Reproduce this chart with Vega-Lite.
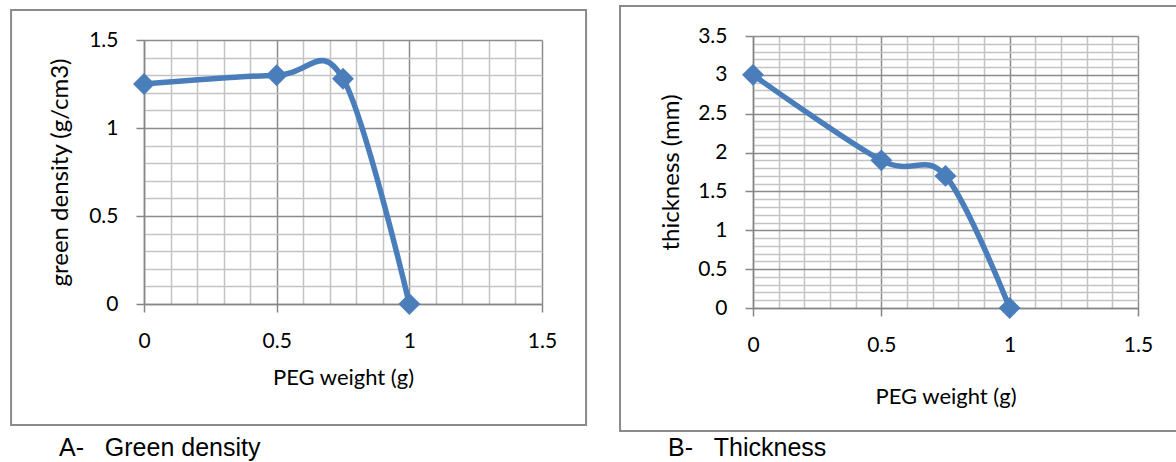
{
  "$schema": "https://vega.github.io/schema/vega-lite/v6.json",
  "padding": {"left": 10, "top": 5, "right": 0, "bottom": 0},
  "background": "white",
  "spacing": 211,
  "bounds": "flush",
  "center": true,
  "datasets": {
    "density": [
      {"peg": 0, "value": 1.25},
      {"peg": 0.5, "value": 1.30},
      {"peg": 0.75, "value": 1.28},
      {"peg": 1, "value": 0}
    ],
    "thickness": [
      {"peg": 0, "value": 3.0},
      {"peg": 0.5, "value": 1.9},
      {"peg": 0.75, "value": 1.7},
      {"peg": 1, "value": 0}
    ],
    "frame": [{"unit": "panel"}]
  },
  "config": {
    "view": {"stroke": null},
    "font": "Lato",
    "axis": {
      "labelFont": "Lato",
      "labelFontSize": 21,
      "labelColor": "#000000",
      "titleFont": "Lato",
      "titleFontSize": 22,
      "titleFontWeight": "normal",
      "titleColor": "#000000",
      "domainColor": "#868686",
      "domainWidth": 1.5,
      "tickSize": 8,
      "tickWidth": 1.5,
      "gridWidth": 1.5,
      "labelPadding": 18,
      "labelOverlap": false,
      "labelFlush": false,
      "format": ".1~f"
    },
    "axisY": {"titleFontSize": 24},
    "title": {"font": "Liberation Sans", "fontSize": 25, "fontWeight": "normal", "color": "#000000", "orient": "bottom", "anchor": "start", "frame": "group"}
  },
  "hconcat": [
    {
      "width": 398,
      "height": 264,
      "title": {"text": "A-\u00a0\u00a0\u00a0Green density", "dx": -85, "offset": 10},
      "layer": [
        {
          "data": {"name": "density"},
          "mark": {"type": "line", "interpolate": "cardinal", "color": "#4a7ebb", "strokeWidth": 5.5},
          "encoding": {
            "x": {
              "field": "peg", "type": "quantitative",
              "scale": {"domain": [0, 1.5], "nice": false, "zero": false},
              "axis": {
                "grid": true, "title": "PEG weight (g)", "titlePadding": 16,
                "values": [0, 0.1, 0.2, 0.3, 0.4, 0.5, 0.6, 0.7, 0.8, 0.9, 1, 1.1, 1.2, 1.3, 1.4, 1.5],
                "labelExpr": "indexof([0, 0.5, 1, 1.5], datum.value) >= 0 ? datum.label : ''",
                "gridColor": {"condition": {"test": "indexof([0, 0.5, 1, 1.5], datum.value) >= 0", "value": "#8c8c8c"}, "value": "#c4c4c4"},
                "tickColor": {"condition": {"test": "indexof([0, 0.5, 1, 1.5], datum.value) >= 0", "value": "#868686"}, "value": "transparent"}
              }
            },
            "y": {
              "field": "value", "type": "quantitative",
              "scale": {"domain": [0, 1.5], "nice": false, "zero": false},
              "axis": {
                "grid": true, "title": "green density (g/cm3)", "titlePadding": 16,
                "values": [0, 0.1, 0.2, 0.3, 0.4, 0.5, 0.6, 0.7, 0.8, 0.9, 1, 1.1, 1.2, 1.3, 1.4, 1.5],
                "labelExpr": "indexof([0, 0.5, 1, 1.5], datum.value) >= 0 ? datum.label : ''",
                "gridColor": {"condition": {"test": "indexof([0, 0.5, 1, 1.5], datum.value) >= 0", "value": "#8c8c8c"}, "value": "#c4c4c4"},
                "tickColor": {"condition": {"test": "indexof([0, 0.5, 1, 1.5], datum.value) >= 0", "value": "#868686"}, "value": "transparent"}
              }
            }
          }
        },
        {
          "data": {"name": "density"},
          "mark": {"type": "point", "shape": "diamond", "filled": true, "color": "#4a7ebb", "size": 480, "opacity": 1},
          "encoding": {
            "x": {
              "field": "peg", "type": "quantitative",
              "scale": {"domain": [0, 1.5], "nice": false, "zero": false},
              "axis": {
                "grid": true, "title": "PEG weight (g)", "titlePadding": 16,
                "values": [0, 0.1, 0.2, 0.3, 0.4, 0.5, 0.6, 0.7, 0.8, 0.9, 1, 1.1, 1.2, 1.3, 1.4, 1.5],
                "labelExpr": "indexof([0, 0.5, 1, 1.5], datum.value) >= 0 ? datum.label : ''",
                "gridColor": {"condition": {"test": "indexof([0, 0.5, 1, 1.5], datum.value) >= 0", "value": "#8c8c8c"}, "value": "#c4c4c4"},
                "tickColor": {"condition": {"test": "indexof([0, 0.5, 1, 1.5], datum.value) >= 0", "value": "#868686"}, "value": "transparent"}
              }
            },
            "y": {
              "field": "value", "type": "quantitative",
              "scale": {"domain": [0, 1.5], "nice": false, "zero": false},
              "axis": {
                "grid": true, "title": "green density (g/cm3)", "titlePadding": 16,
                "values": [0, 0.1, 0.2, 0.3, 0.4, 0.5, 0.6, 0.7, 0.8, 0.9, 1, 1.1, 1.2, 1.3, 1.4, 1.5],
                "labelExpr": "indexof([0, 0.5, 1, 1.5], datum.value) >= 0 ? datum.label : ''",
                "gridColor": {"condition": {"test": "indexof([0, 0.5, 1, 1.5], datum.value) >= 0", "value": "#8c8c8c"}, "value": "#c4c4c4"},
                "tickColor": {"condition": {"test": "indexof([0, 0.5, 1, 1.5], datum.value) >= 0", "value": "#868686"}, "value": "transparent"}
              }
            }
          }
        },
        {
          "data": {"name": "frame"},
          "mark": {"type": "rect", "fill": null, "stroke": "#8a8a8a", "strokeWidth": 2, "clip": false},
          "encoding": {
            "x": {
              "datum": -0.501, "type": "quantitative",
              "scale": {"domain": [0, 1.5], "nice": false, "zero": false},
              "axis": {
                "grid": true, "title": "PEG weight (g)", "titlePadding": 16,
                "values": [0, 0.1, 0.2, 0.3, 0.4, 0.5, 0.6, 0.7, 0.8, 0.9, 1, 1.1, 1.2, 1.3, 1.4, 1.5],
                "labelExpr": "indexof([0, 0.5, 1, 1.5], datum.value) >= 0 ? datum.label : ''",
                "gridColor": {"condition": {"test": "indexof([0, 0.5, 1, 1.5], datum.value) >= 0", "value": "#8c8c8c"}, "value": "#c4c4c4"},
                "tickColor": {"condition": {"test": "indexof([0, 0.5, 1, 1.5], datum.value) >= 0", "value": "#868686"}, "value": "transparent"}
              }
            },
            "x2": {"datum": 1.666},
            "y": {
              "datum": 1.67, "type": "quantitative",
              "scale": {"domain": [0, 1.5], "nice": false, "zero": false},
              "axis": {
                "grid": true, "title": "green density (g/cm3)", "titlePadding": 16,
                "values": [0, 0.1, 0.2, 0.3, 0.4, 0.5, 0.6, 0.7, 0.8, 0.9, 1, 1.1, 1.2, 1.3, 1.4, 1.5],
                "labelExpr": "indexof([0, 0.5, 1, 1.5], datum.value) >= 0 ? datum.label : ''",
                "gridColor": {"condition": {"test": "indexof([0, 0.5, 1, 1.5], datum.value) >= 0", "value": "#8c8c8c"}, "value": "#c4c4c4"},
                "tickColor": {"condition": {"test": "indexof([0, 0.5, 1, 1.5], datum.value) >= 0", "value": "#868686"}, "value": "transparent"}
              }
            },
            "y2": {"datum": -0.6875}
          }
        }
      ]
    },
    {
      "width": 385,
      "height": 272,
      "title": {"text": "B-\u00a0\u00a0\u00a0Thickness", "dx": -85, "offset": 4},
      "layer": [
        {
          "data": {"name": "thickness"},
          "mark": {"type": "line", "interpolate": "cardinal", "color": "#4a7ebb", "strokeWidth": 5.5},
          "encoding": {
            "x": {
              "field": "peg", "type": "quantitative",
              "scale": {"domain": [0, 1.5], "nice": false, "zero": false},
              "axis": {
                "grid": true, "title": "PEG weight (g)", "titlePadding": 31,
                "values": [0, 0.1, 0.2, 0.3, 0.4, 0.5, 0.6, 0.7, 0.8, 0.9, 1, 1.1, 1.2, 1.3, 1.4, 1.5],
                "labelExpr": "indexof([0, 0.5, 1, 1.5], datum.value) >= 0 ? datum.label : ''",
                "gridColor": {"condition": {"test": "indexof([0, 0.5, 1, 1.5], datum.value) >= 0", "value": "#8c8c8c"}, "value": "#c4c4c4"},
                "tickColor": {"condition": {"test": "indexof([0, 0.5, 1, 1.5], datum.value) >= 0", "value": "#868686"}, "value": "transparent"}
              }
            },
            "y": {
              "field": "value", "type": "quantitative",
              "scale": {"domain": [0, 3.5], "nice": false, "zero": false},
              "axis": {
                "grid": true, "title": "thickness (mm)", "titlePadding": 14,
                "values": [0, 0.1, 0.2, 0.3, 0.4, 0.5, 0.6, 0.7, 0.8, 0.9, 1, 1.1, 1.2, 1.3, 1.4, 1.5, 1.6, 1.7, 1.8, 1.9, 2, 2.1, 2.2, 2.3, 2.4, 2.5, 2.6, 2.7, 2.8, 2.9, 3, 3.1, 3.2, 3.3, 3.4, 3.5],
                "labelExpr": "indexof([0, 0.5, 1, 1.5, 2, 2.5, 3, 3.5], datum.value) >= 0 ? datum.label : ''",
                "gridColor": {"condition": {"test": "indexof([0, 0.5, 1, 1.5, 2, 2.5, 3, 3.5], datum.value) >= 0", "value": "#8c8c8c"}, "value": "#c4c4c4"},
                "tickColor": {"condition": {"test": "indexof([0, 0.5, 1, 1.5, 2, 2.5, 3, 3.5], datum.value) >= 0", "value": "#868686"}, "value": "transparent"}
              }
            }
          }
        },
        {
          "data": {"name": "thickness"},
          "mark": {"type": "point", "shape": "diamond", "filled": true, "color": "#4a7ebb", "size": 480, "opacity": 1},
          "encoding": {
            "x": {
              "field": "peg", "type": "quantitative",
              "scale": {"domain": [0, 1.5], "nice": false, "zero": false},
              "axis": {
                "grid": true, "title": "PEG weight (g)", "titlePadding": 31,
                "values": [0, 0.1, 0.2, 0.3, 0.4, 0.5, 0.6, 0.7, 0.8, 0.9, 1, 1.1, 1.2, 1.3, 1.4, 1.5],
                "labelExpr": "indexof([0, 0.5, 1, 1.5], datum.value) >= 0 ? datum.label : ''",
                "gridColor": {"condition": {"test": "indexof([0, 0.5, 1, 1.5], datum.value) >= 0", "value": "#8c8c8c"}, "value": "#c4c4c4"},
                "tickColor": {"condition": {"test": "indexof([0, 0.5, 1, 1.5], datum.value) >= 0", "value": "#868686"}, "value": "transparent"}
              }
            },
            "y": {
              "field": "value", "type": "quantitative",
              "scale": {"domain": [0, 3.5], "nice": false, "zero": false},
              "axis": {
                "grid": true, "title": "thickness (mm)", "titlePadding": 14,
                "values": [0, 0.1, 0.2, 0.3, 0.4, 0.5, 0.6, 0.7, 0.8, 0.9, 1, 1.1, 1.2, 1.3, 1.4, 1.5, 1.6, 1.7, 1.8, 1.9, 2, 2.1, 2.2, 2.3, 2.4, 2.5, 2.6, 2.7, 2.8, 2.9, 3, 3.1, 3.2, 3.3, 3.4, 3.5],
                "labelExpr": "indexof([0, 0.5, 1, 1.5, 2, 2.5, 3, 3.5], datum.value) >= 0 ? datum.label : ''",
                "gridColor": {"condition": {"test": "indexof([0, 0.5, 1, 1.5, 2, 2.5, 3, 3.5], datum.value) >= 0", "value": "#8c8c8c"}, "value": "#c4c4c4"},
                "tickColor": {"condition": {"test": "indexof([0, 0.5, 1, 1.5, 2, 2.5, 3, 3.5], datum.value) >= 0", "value": "#868686"}, "value": "transparent"}
              }
            }
          }
        },
        {
          "data": {"name": "frame"},
          "mark": {"type": "rect", "fill": null, "stroke": "#8a8a8a", "strokeWidth": 2, "clip": false},
          "encoding": {
            "x": {
              "datum": -0.518, "type": "quantitative",
              "scale": {"domain": [0, 1.5], "nice": false, "zero": false},
              "axis": {
                "grid": true, "title": "PEG weight (g)", "titlePadding": 31,
                "values": [0, 0.1, 0.2, 0.3, 0.4, 0.5, 0.6, 0.7, 0.8, 0.9, 1, 1.1, 1.2, 1.3, 1.4, 1.5],
                "labelExpr": "indexof([0, 0.5, 1, 1.5], datum.value) >= 0 ? datum.label : ''",
                "gridColor": {"condition": {"test": "indexof([0, 0.5, 1, 1.5], datum.value) >= 0", "value": "#8c8c8c"}, "value": "#c4c4c4"},
                "tickColor": {"condition": {"test": "indexof([0, 0.5, 1, 1.5], datum.value) >= 0", "value": "#868686"}, "value": "transparent"}
              }
            },
            "x2": {"datum": 1.7},
            "y": {
              "datum": 3.886, "type": "quantitative",
              "scale": {"domain": [0, 3.5], "nice": false, "zero": false},
              "axis": {
                "grid": true, "title": "thickness (mm)", "titlePadding": 14,
                "values": [0, 0.1, 0.2, 0.3, 0.4, 0.5, 0.6, 0.7, 0.8, 0.9, 1, 1.1, 1.2, 1.3, 1.4, 1.5, 1.6, 1.7, 1.8, 1.9, 2, 2.1, 2.2, 2.3, 2.4, 2.5, 2.6, 2.7, 2.8, 2.9, 3, 3.1, 3.2, 3.3, 3.4, 3.5],
                "labelExpr": "indexof([0, 0.5, 1, 1.5, 2, 2.5, 3, 3.5], datum.value) >= 0 ? datum.label : ''",
                "gridColor": {"condition": {"test": "indexof([0, 0.5, 1, 1.5, 2, 2.5, 3, 3.5], datum.value) >= 0", "value": "#8c8c8c"}, "value": "#c4c4c4"},
                "tickColor": {"condition": {"test": "indexof([0, 0.5, 1, 1.5, 2, 2.5, 3, 3.5], datum.value) >= 0", "value": "#868686"}, "value": "transparent"}
              }
            },
            "y2": {"datum": -1.583}
          }
        }
      ]
    }
  ]
}
